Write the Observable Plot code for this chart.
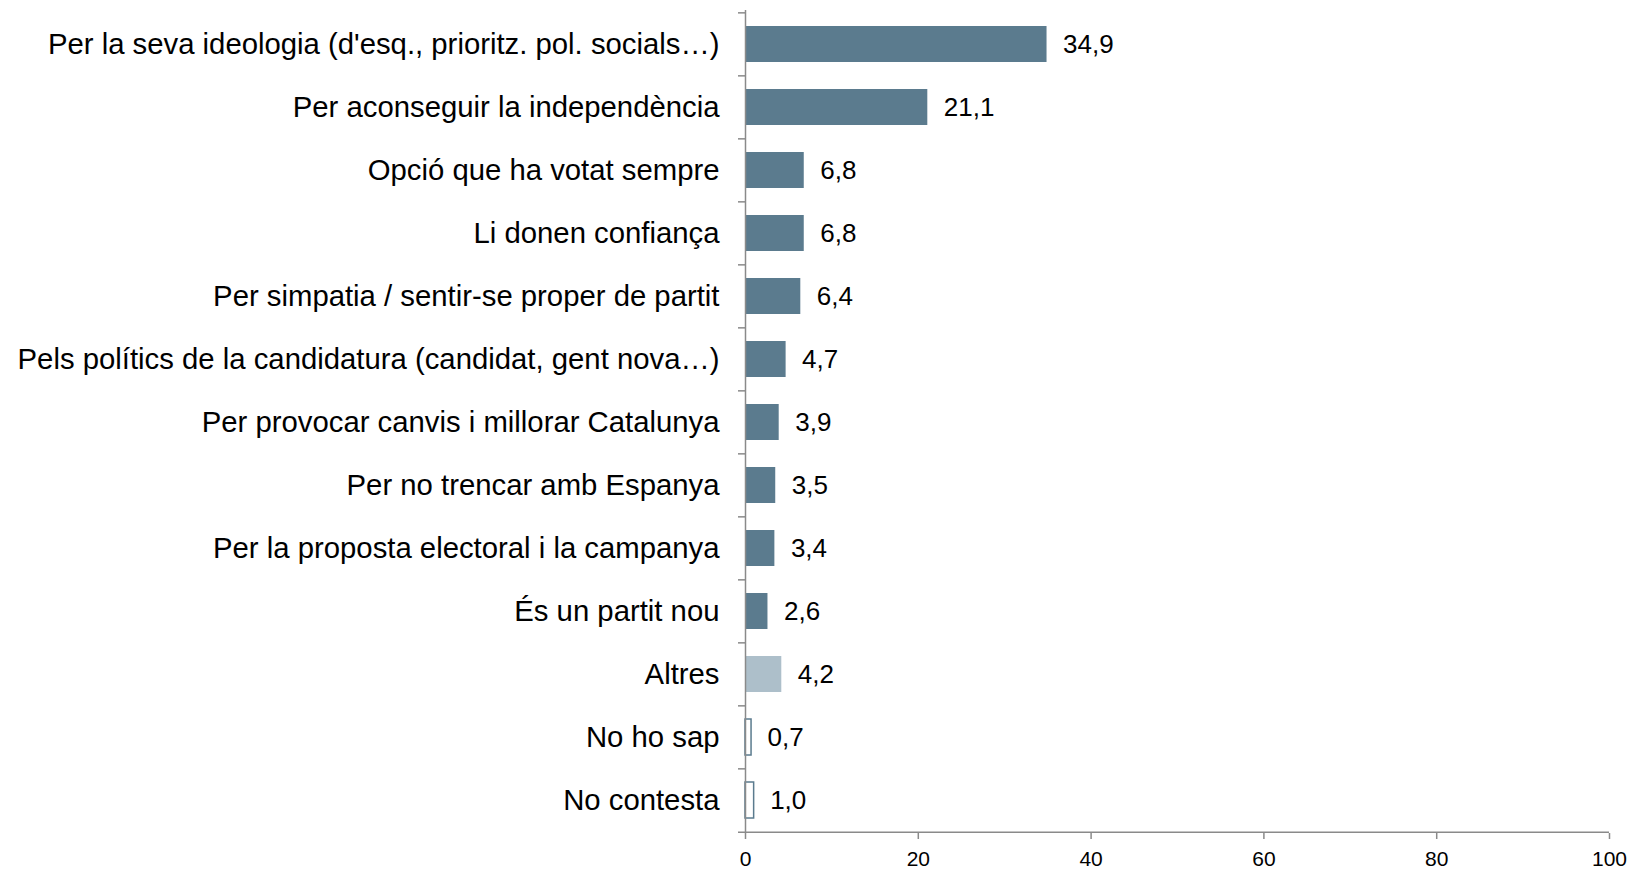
<!DOCTYPE html>
<html>
<head>
<meta charset="utf-8">
<script src="https://cdn.jsdelivr.net/npm/d3@7"></script>
<script src="https://cdn.jsdelivr.net/npm/@observablehq/plot@0.6"></script>
<style>
  html, body { margin: 0; padding: 0; background: #fff; }
  #chart svg { display: block; }
  #chart svg, #chart svg text { font-family: "Liberation Sans", Arial, sans-serif !important; }
</style>
</head>
<body>
<div id="chart"></div>
<script>
const categories = [
  "Per la seva ideologia (d'esq., prioritz. pol. socials…)",
  "Per aconseguir la independència",
  "Opció que ha votat sempre",
  "Li donen confiança",
  "Per simpatia / sentir-se proper de partit",
  "Pels polítics de la candidatura (candidat, gent nova…)",
  "Per provocar canvis i millorar Catalunya",
  "Per no trencar amb Espanya",
  "Per la proposta electoral i la campanya",
  "És un partit nou",
  "Altres",
  "No ho sap",
  "No contesta"
];
const values = [34.9, 21.1, 6.8, 6.8, 6.4, 4.7, 3.9, 3.5, 3.4, 2.6, 4.2, 0.7, 1.0];
const kinds = ["main","main","main","main","main","main","main","main","main","main","other","unknown","unknown"];
const xTicks = [0, 20, 40, 60, 80, 100];

const W = 1633, H = 869;
const mL = 745, mR = 24, mT = 10, mB = 36;
const step = (H - mT - mB) / categories.length;
const pxToX = 100 / (W - mL - mR);

const data = categories.map((c, i) => ({category: c, value: values[i], kind: kinds[i]}));
const fillOf = {main: "#5b7b8e", other: "#adbfca", unknown: "#ffffff"};
const fmt = v => v.toFixed(1).replace(".", ",");

const axisColor = "#8a8a8a";

const chart = Plot.plot({
  width: W,
  height: H,
  marginLeft: mL,
  marginRight: mR,
  marginTop: mT,
  marginBottom: mB,
  style: {fontFamily: "'Liberation Sans', Arial, sans-serif", background: "#fff"},
  x: {domain: [0, 100], ticks: xTicks, label: null},
  y: {domain: categories, paddingInner: 0.43, paddingOuter: 0.215, label: null},
  marks: [
    Plot.barX(data, {
      y: "category", x: "value",
      fill: d => fillOf[d.kind],
      stroke: d => d.kind === "unknown" ? "#5b7b8e" : "none",
      strokeWidth: 1.5
    }),
    Plot.text(data, {
      y: "category", x: "value", text: d => fmt(d.value),
      textAnchor: "start", dx: 16, fontSize: 26, fill: "#000"
    }),
    Plot.ruleX([0], {stroke: axisColor, strokeWidth: 1.5}),
    Plot.ruleY(categories, {y: d => d, dy: -step / 2, x1: -7 * pxToX, x2: 0, stroke: axisColor, strokeWidth: 1.5}),
    Plot.ruleY(categories.slice(-1), {y: d => d, dy: step / 2, x1: -7 * pxToX, x2: 100, stroke: axisColor, strokeWidth: 1.5}),
    Plot.axisY({tickSize: 0, tickPadding: 26, fontSize: 29.3, color: "#000", label: null}),
    Plot.axisX(xTicks, {tickSize: 6, tickPadding: 12, fontSize: 21, stroke: axisColor, strokeWidth: 1.5, color: "#000", label: null})
  ]
});
document.getElementById("chart").appendChild(chart);
</script>
</body>
</html>
